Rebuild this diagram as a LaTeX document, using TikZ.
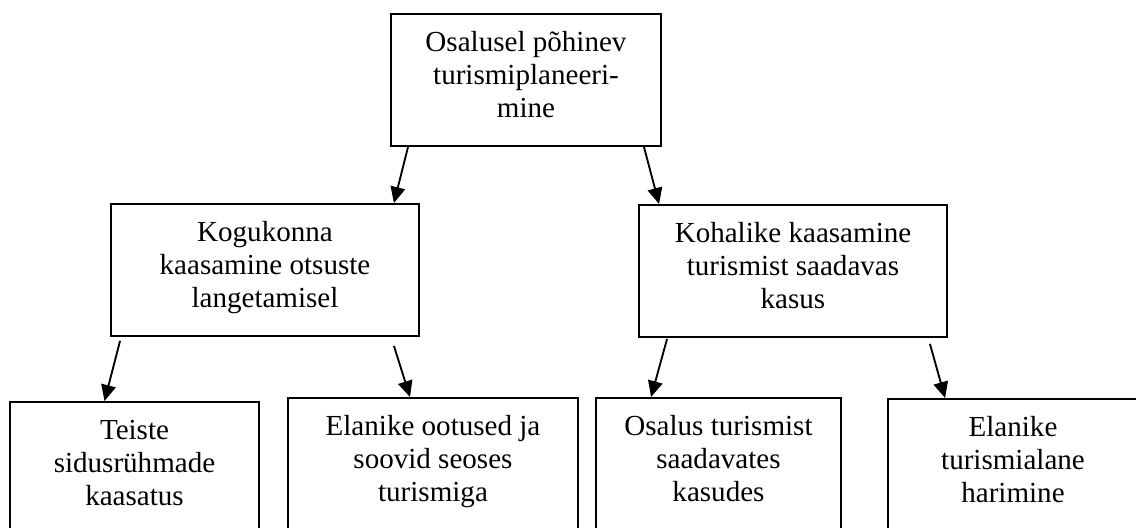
\documentclass[tikz,border=0pt]{standalone}
\usepackage{fontspec}
\setmainfont{Liberation Serif}
\usepackage{tikz}
\usetikzlibrary{arrows.meta, calc}
\tikzstyle{topic} = [rectangle, draw=black, line width=1.4pt, align=center, anchor=north, inner xsep=0pt, inner ysep=0pt, text height=77.5pt, text depth=21.5pt, font=\fontsize{21.8pt}{24.8pt}\selectfont]
\tikzstyle{leaf} = [topic, text height=78pt, text depth=50pt]
\tikzstyle{arrow} = [line width=1.4pt, -{Triangle[length=12pt,width=11pt]}]

\begin{document}
\begin{tikzpicture}[x=0.75pt, y=-0.75pt]
\useasboundingbox (0,0) rectangle (1136,528);
% Nodes
\node (plan) [topic, minimum width=202.5pt] at (526,13) {Osalusel põhinev\\turismiplaneeri-\\mine};
\node (kogukond) [topic, minimum width=231pt] at (265,203) {Kogukonna\\kaasamine otsuste\\langetamisel};
\node (kohalikud) [topic, minimum width=231pt] at (793,204) {Kohalike kaasamine\\turismist saadavas\\kasus};
\node (teised) [leaf, minimum width=186.75pt] at (134.5,401) {Teiste\\sidusrühmade\\kaasatus};
\node (ootused) [leaf, minimum width=217.5pt] at (433,397) {Elanike ootused ja\\soovid seoses\\turismiga};
\node (osalus) [leaf, minimum width=183.75pt] at (718.5,397) {Osalus turismist\\saadavates\\kasudes};
\node (harimine) [leaf, minimum width=187.5pt] at (1013,398) {Elanike\\turismialane\\harimine};

% Arrows
\draw [arrow] ($(plan.south west)+(18,0)$) -- ($(kogukond.north east)+(-26,0)$);
\draw [arrow] ($(plan.south east)+(-18,0)$) -- ($(kohalikud.north west)+(21,0)$);
\draw [arrow] ($(kogukond.south west)+(10,4)$) -- ($(teised.north)+(-30,0)$);
\draw [arrow] ($(kogukond.south east)+(-26,9)$) -- ($(ootused.north)+(-23,0)$);
\draw [arrow] ($(kohalikud.south west)+(29,1)$) -- ($(osalus.north west)+(56,0)$);
\draw [arrow] ($(kohalikud.south east)+(-18,6)$) -- ($(harimine.north west)+(58,0)$);
\end{tikzpicture}
\end{document}
